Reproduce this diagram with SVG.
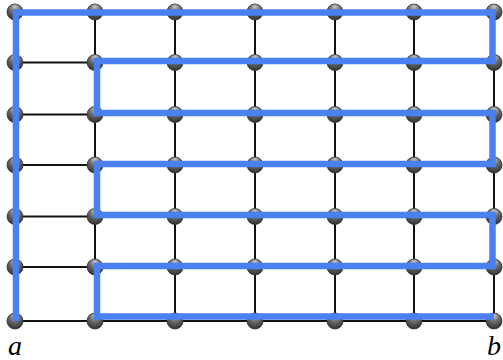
<svg xmlns="http://www.w3.org/2000/svg" width="503" height="360" viewBox="0 0 503 360">
<defs>
<radialGradient id="ball" cx="0.5" cy="0.3" r="0.75" fx="0.5" fy="0.15">
<stop offset="0" stop-color="#c8c8c8"/>
<stop offset="0.45" stop-color="#6a6a6a"/>
<stop offset="1" stop-color="#2a2a2a"/>
</radialGradient>
</defs>
<style>
.grid{stroke:#111;stroke-width:2;fill:none}
.path{stroke:#4a80f0;stroke-width:6.5;fill:none;stroke-linejoin:miter;stroke-linecap:butt}
.node{fill:url(#ball);stroke:#333;stroke-width:0.8}
.lbl{font-family:"Liberation Serif",serif;font-style:italic;font-size:28px;fill:#000}
</style>
<rect width="503" height="360" fill="#fff"/>
<g id="connectors">
<g class="grid">
<path d="M15 12H494M15 62.5H494M15 114.5H494M15 165H494M15 216.5H494M15 267H494M15 321H494"/>
<path d="M15 12V321M95 12V321M175 12V321M255 12V321M335 12V321M414 12V321M494 12V321"/>
</g>
</g>
<g id="nodes">
<g id="r0"><circle class="node" cx="15" cy="12" r="8"/><circle class="node" cx="95" cy="12" r="8"/><circle class="node" cx="175" cy="12" r="8"/><circle class="node" cx="255" cy="12" r="8"/><circle class="node" cx="335" cy="12" r="8"/><circle class="node" cx="414" cy="12" r="8"/><circle class="node" cx="494" cy="12" r="8"/></g>
<g id="r1"><circle class="node" cx="15" cy="62.5" r="8"/><circle class="node" cx="95" cy="62.5" r="8"/><circle class="node" cx="175" cy="62.5" r="8"/><circle class="node" cx="255" cy="62.5" r="8"/><circle class="node" cx="335" cy="62.5" r="8"/><circle class="node" cx="414" cy="62.5" r="8"/><circle class="node" cx="494" cy="62.5" r="8"/></g>
<g id="r2"><circle class="node" cx="15" cy="114.5" r="8"/><circle class="node" cx="95" cy="114.5" r="8"/><circle class="node" cx="175" cy="114.5" r="8"/><circle class="node" cx="255" cy="114.5" r="8"/><circle class="node" cx="335" cy="114.5" r="8"/><circle class="node" cx="414" cy="114.5" r="8"/><circle class="node" cx="494" cy="114.5" r="8"/></g>
<g id="r3"><circle class="node" cx="15" cy="165" r="8"/><circle class="node" cx="95" cy="165" r="8"/><circle class="node" cx="175" cy="165" r="8"/><circle class="node" cx="255" cy="165" r="8"/><circle class="node" cx="335" cy="165" r="8"/><circle class="node" cx="414" cy="165" r="8"/><circle class="node" cx="494" cy="165" r="8"/></g>
<g id="r4"><circle class="node" cx="15" cy="216.5" r="8"/><circle class="node" cx="95" cy="216.5" r="8"/><circle class="node" cx="175" cy="216.5" r="8"/><circle class="node" cx="255" cy="216.5" r="8"/><circle class="node" cx="335" cy="216.5" r="8"/><circle class="node" cx="414" cy="216.5" r="8"/><circle class="node" cx="494" cy="216.5" r="8"/></g>
<g id="r5"><circle class="node" cx="15" cy="267" r="8"/><circle class="node" cx="95" cy="267" r="8"/><circle class="node" cx="175" cy="267" r="8"/><circle class="node" cx="255" cy="267" r="8"/><circle class="node" cx="335" cy="267" r="8"/><circle class="node" cx="414" cy="267" r="8"/><circle class="node" cx="494" cy="267" r="8"/></g>
<g id="r6"><circle class="node" cx="15" cy="321" r="8"/><circle class="node" cx="95" cy="321" r="8"/><circle class="node" cx="175" cy="321" r="8"/><circle class="node" cx="255" cy="321" r="8"/><circle class="node" cx="335" cy="321" r="8"/><circle class="node" cx="414" cy="321" r="8"/><circle class="node" cx="494" cy="321" r="8"/></g>
</g>
<g id="hamiltonian-path">
<path class="path" d="M16 321V12.5H492.5V61H97V113H492.5V164H97V215H492.5V266H97V316.5H494"/>
</g>
<g id="labels">
<text class="lbl" x="8" y="355">a</text>
<text class="lbl" x="487" y="355">b</text>
</g>
</svg>
